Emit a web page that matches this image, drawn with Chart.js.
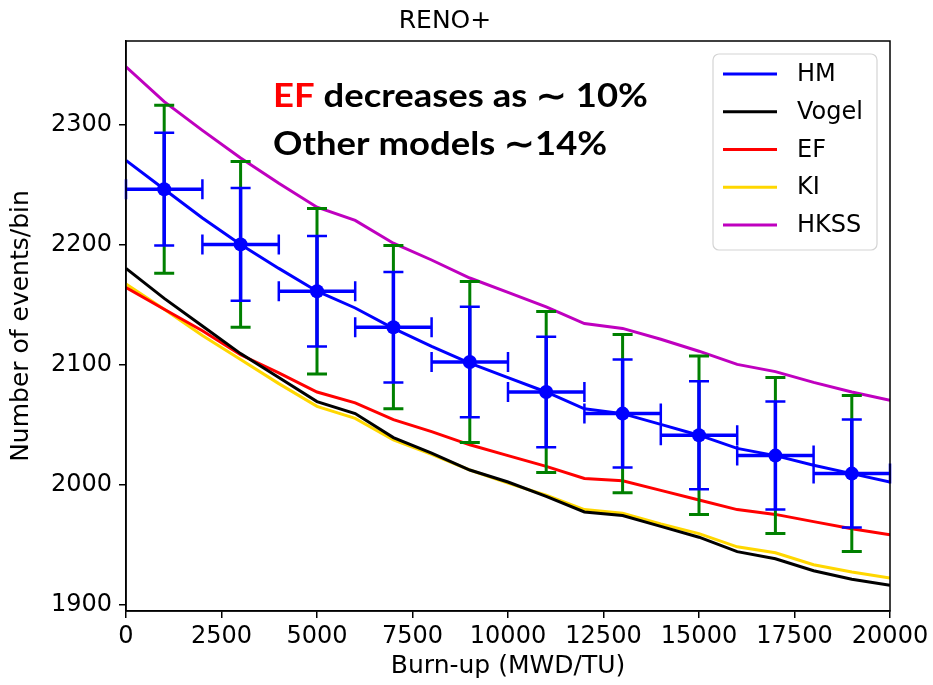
<!DOCTYPE html>
<html>
<head>
<meta charset="utf-8">
<script src="https://cdn.jsdelivr.net/npm/chart.js@4.4.1/dist/chart.umd.min.js"></script>
<style>
  html, body { margin: 0; padding: 0; background: #fff; }
  #wrap { width: 933px; height: 685px; }
</style>
</head>
<body>
<div id="wrap"><canvas id="reno_chart"></canvas></div>
<script>
// burn-up grid for the model curves (MWD/TU)
const burnup = [0, 1000, 2000, 3000, 4000, 5000, 6000, 7000, 8000, 9000, 10000,
                11000, 12000, 13000, 14000, 15000, 16000, 17000, 18000, 19000, 20000];

// model predictions, events/bin
const hm_line = [2270, 2246, 2222, 2200, 2180, 2161, 2147, 2130, 2115, 2101, 2089,
                 2077, 2063, 2059, 2050, 2041, 2030, 2024, 2016, 2009, 2002];
const vogel   = [2180, 2155, 2132, 2109, 2089, 2069, 2059, 2039, 2026, 2012, 2002,
                 1990, 1977, 1974, 1965, 1956, 1944, 1938, 1928, 1921, 1916];
const ef      = [2164, 2146, 2128, 2108, 2093, 2077, 2068, 2054, 2044, 2033, 2024,
                 2015, 2005, 2003, 1995, 1987, 1979, 1975, 1969, 1963, 1958];
const ki      = [2167, 2146, 2124, 2104, 2084, 2065, 2055, 2037, 2025, 2012, 2001,
                 1991, 1979, 1976, 1967, 1959, 1948, 1943, 1933, 1927, 1922];
const hkss    = [2348, 2319, 2295, 2272, 2251, 2231, 2220, 2201, 2187, 2172, 2160,
                 2148, 2134, 2130, 2121, 2111, 2100, 2094, 2085, 2077, 2070];

// binned points with errors
const bin_x    = [1000, 3000, 5000, 7000, 9000, 11000, 13000, 15000, 17000, 19000];
const bin_y    = [2246, 2200, 2161, 2131, 2102, 2077, 2059, 2041, 2024, 2009];
const bin_xerr = [1000, 1000, 1000, 1000, 1000, 1000, 1000, 1000, 1000, 1000];
const stat_err = [47, 47, 46, 46, 46, 46, 45, 45, 45, 45];
const tot_err  = [70, 69, 69, 68, 67, 67, 66, 66, 65, 65];

const x_ticks = [0, 2500, 5000, 7500, 10000, 12500, 15000, 17500, 20000];
const y_ticks = [1900, 2000, 2100, 2200, 2300];

const models = [
    { label: "HM",    data: hm_line, color: "#0000ff" },
    { label: "Vogel", data: vogel,   color: "#000000" },
    { label: "EF",    data: ef,      color: "#ff0000" },
    { label: "KI",    data: ki,      color: "#ffd700" },
    { label: "HKSS",  data: hkss,    color: "#bf00bf" }
];

const pts = (ys) => burnup.map((x, i) => ({ x: x, y: ys[i] }));

const tick_font = { family: "DejaVu Sans", size: 24 };

// error bars, drawn just before the points dataset (index 0)
const errorbar_plugin = {
    id: "errorbars",
    beforeDatasetDraw(chart, args) {
        if (args.index !== 0) return;
        const ctx = chart.ctx, xs = chart.scales.x, ys = chart.scales.y;
        const cap = 10;
        ctx.save();
        ctx.lineCap = "butt";
        for (let i = 0; i < bin_x.length; i++) {
            const px = xs.getPixelForValue(bin_x[i]);
            const py = ys.getPixelForValue(bin_y[i]);
            // total (green)
            const gt = ys.getPixelForValue(bin_y[i] + tot_err[i]);
            const gb = ys.getPixelForValue(bin_y[i] - tot_err[i]);
            ctx.strokeStyle = "#008000";
            ctx.lineWidth = 3;
            ctx.beginPath();
            ctx.moveTo(px, gt); ctx.lineTo(px, gb);
            ctx.moveTo(px - cap, gt); ctx.lineTo(px + cap, gt);
            ctx.moveTo(px - cap, gb); ctx.lineTo(px + cap, gb);
            ctx.stroke();
            // stat (blue)
            const bt = ys.getPixelForValue(bin_y[i] + stat_err[i]);
            const bb = ys.getPixelForValue(bin_y[i] - stat_err[i]);
            const xl = xs.getPixelForValue(bin_x[i] - bin_xerr[i]);
            const xr = xs.getPixelForValue(bin_x[i] + bin_xerr[i]);
            ctx.strokeStyle = "#0000ff";
            ctx.lineWidth = 3.5;
            ctx.beginPath();
            ctx.moveTo(px, bt); ctx.lineTo(px, bb);
            ctx.moveTo(xl, py); ctx.lineTo(xr, py);
            ctx.stroke();
            ctx.lineWidth = 2.5;
            ctx.beginPath();
            ctx.moveTo(px - cap, bt); ctx.lineTo(px + cap, bt);
            ctx.moveTo(px - cap, bb); ctx.lineTo(px + cap, bb);
            ctx.moveTo(xl, py - cap); ctx.lineTo(xl, py + cap);
            ctx.moveTo(xr, py - cap); ctx.lineTo(xr, py + cap);
            ctx.stroke();
        }
        ctx.restore();
    }
};

// frame, legend box and the annotation text
const deco_plugin = {
    id: "deco",
    afterDraw(chart) {
        const ctx = chart.ctx, a = chart.chartArea;
        ctx.save();
        ctx.strokeStyle = "#000";
        ctx.lineWidth = 1.5;
        ctx.strokeRect(a.left, a.top, a.right - a.left, a.bottom - a.top);

        // legend
        const lx = a.right - 177, ly = a.top + 13, lw = 164, lh = 196;
        ctx.beginPath();
        ctx.roundRect(lx, ly, lw, lh, 6);
        ctx.fillStyle = "rgba(255,255,255,0.85)";
        ctx.fill();
        ctx.strokeStyle = "#d4d4d4";
        ctx.lineWidth = 1.2;
        ctx.stroke();
        ctx.font = "24px 'DejaVu Sans'";
        ctx.textBaseline = "middle";
        ctx.textAlign = "left";
        models.forEach((m, i) => {
            const yy = ly + 20 + i * 37.75;
            ctx.strokeStyle = m.color;
            ctx.lineWidth = 3;
            ctx.beginPath();
            ctx.moveTo(lx + 10, yy); ctx.lineTo(lx + 64, yy);
            ctx.stroke();
            ctx.fillStyle = "#000";
            ctx.fillText(m.label, lx + 84, yy + 1);
        });

        // annotation, stretched a little sideways to the reference width
        ctx.font = "bold 33px Lato";
        ctx.textBaseline = "alphabetic";
        const tx = a.left + 147;
        const l1a = "EF", l1b = " decreases as \u223c 10%", l2 = "Other models \u223c14%";
        const w1 = ctx.measureText(l1a + l1b).width;
        const sx = 375 / w1;
        ctx.translate(tx, 0);
        ctx.scale(sx, 1);
        ctx.fillStyle = "#ff0000";
        ctx.fillText(l1a, 0, 107);
        const w = ctx.measureText(l1a).width;
        ctx.fillStyle = "#000";
        ctx.fillText(l1b, w, 107);
        ctx.fillText(l2, 0, 155);
        ctx.restore();
    }
};

const datasets = [
    {
        label: "data",
        data: bin_x.map((x, i) => ({ x: x, y: bin_y[i] })),
        showLine: false,
        pointRadius: 7,
        pointHoverRadius: 7,
        pointBackgroundColor: "#0000ff",
        pointBorderWidth: 0,
        borderColor: "#0000ff"
    }
];
models.forEach((m) => {
    datasets.push({
        label: m.label,
        data: pts(m.data),
        borderColor: m.color,
        backgroundColor: m.color,
        borderWidth: 3,
        pointRadius: 0,
        tension: 0,
        fill: false
    });
});

const reno_chart = new Chart("reno_chart",
{
    type: "line",
    data: { datasets: datasets },
    options:
    {
        responsive: true,
        maintainAspectRatio: false,
        animation: false,
        layout: { padding: { left: 0, right: 43, top: 0, bottom: 0 } },
        plugins:
        {
            legend: { display: false },
            tooltip: { enabled: false },
            title:
            {
                display: true,
                text: "RENO+",
                color: "#000",
                font: { family: "DejaVu Sans", size: 25, weight: "normal" },
                padding: { top: 6, bottom: 5 }
            }
        },
        scales:
        {
            x:
            {
                type: "linear",
                min: 0,
                max: 20000,
                afterFit: (s) => { s.height = 74; },
                afterBuildTicks: (s) => { s.ticks = x_ticks.map(v => ({ value: v })); },
                grid: { drawOnChartArea: false, drawTicks: true, tickLength: 7, color: "#000", lineWidth: 1.5 },
                border: { display: true, color: "#000", width: 1.5 },
                ticks: { color: "#000", font: tick_font, padding: 4, maxRotation: 0, callback: (v) => String(v) },
                title:
                {
                    display: true,
                    text: "Burn-up (MWD/TU)",
                    color: "#000",
                    font: { family: "DejaVu Sans", size: 25 },
                    padding: { top: 0, bottom: 4 }
                }
            },
            y:
            {
                min: 1894.5,
                max: 2369.5,
                afterFit: (s) => { s.width = 126; },
                afterBuildTicks: (s) => { s.ticks = y_ticks.map(v => ({ value: v })); },
                grid: { drawOnChartArea: false, drawTicks: true, tickLength: 7, color: "#000", lineWidth: 1.5 },
                border: { display: true, color: "#000", width: 1.5 },
                ticks: { color: "#000", font: tick_font, padding: 7, callback: (v) => String(v) },
                title:
                {
                    display: true,
                    text: "Number of events/bin",
                    color: "#000",
                    font: { family: "DejaVu Sans", size: 25 },
                    padding: { top: 6, bottom: 0 }
                }
            }
        }
    },
    plugins: [errorbar_plugin, deco_plugin]
});
</script>
</body>
</html>
